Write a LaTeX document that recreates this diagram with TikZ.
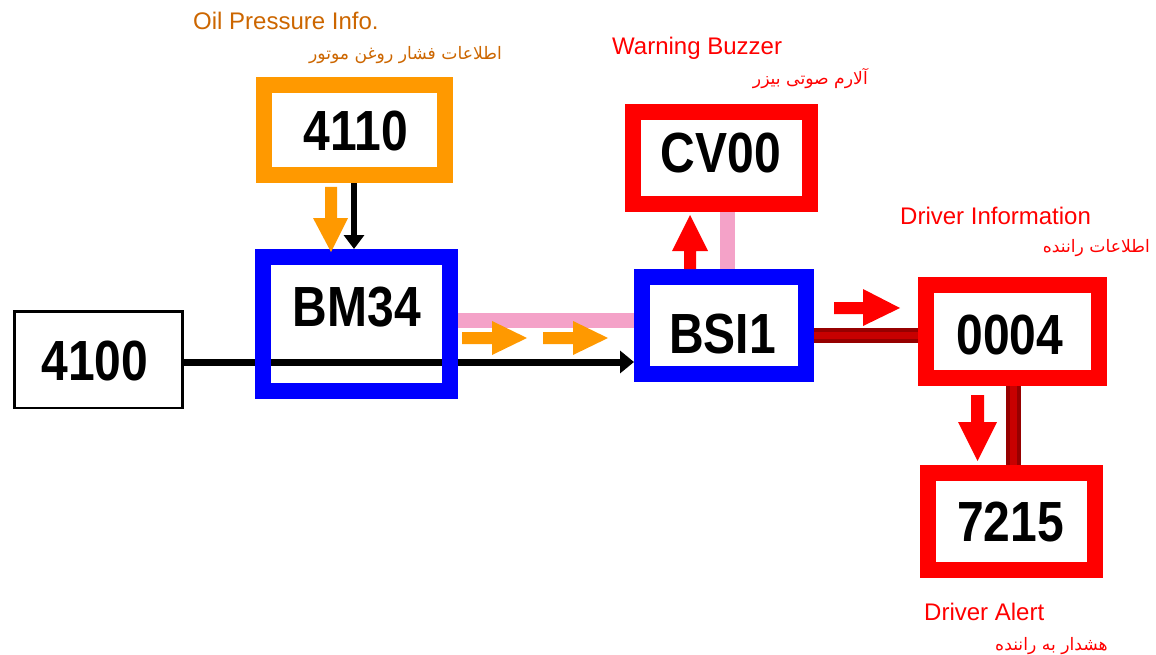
\documentclass[tikz,border=0pt]{standalone}
\usepackage{graphicx}
\usepackage{fontspec}
\setmainfont{Liberation Sans}
\newfontfamily\fa[Script=Arabic]{DejaVu Sans}
\TeXXeTstate=1
\usetikzlibrary{arrows.meta,backgrounds,calc}
\definecolor{orgbox}{RGB}{255,153,0}
\definecolor{orgtxt}{RGB}{204,102,0}
\definecolor{redc}{RGB}{255,0,0}
\definecolor{bluec}{RGB}{0,0,255}
\definecolor{pinkc}{RGB}{244,162,200}
\definecolor{darkred}{RGB}{150,0,0}
\definecolor{midred}{RGB}{200,0,0}
\tikzset{
  fatbox/.style={rectangle, draw=#1, line width=16pt, outer sep=8pt, inner sep=0pt},
  thinbox/.style={rectangle, draw=black, line width=2.5pt, outer sep=1.25pt, inner sep=0pt},
  num/.style={inner sep=0pt, font=\fontsize{48}{48}\selectfont\bfseries},
  entxt/.style={inner sep=0pt, font=\fontsize{24}{24}\selectfont},
  fatxt/.style={inner sep=0pt, font=\fontsize{17.2}{17.2}\fa},
  pinkline/.style={draw=pinkc, line width=15pt},
  darkline/.style={draw=darkred, line width=15pt},
  blackarrow/.style={draw=black, -{Triangle[length=14pt,width=#1]}}
}
\begin{document}
\begin{tikzpicture}[x=1pt,y=-1pt]
\useasboundingbox (0,0) rectangle (1156,655);

% boxes
\node[fatbox=orgbox, minimum width=181, minimum height=90] (b4110) at (354.5,130) {};
\node[fatbox=bluec, minimum width=187, minimum height=134] (bm) at (356.5,324) {};
\node[thinbox, minimum width=168, minimum height=96.5] (b4100) at (98.5,359.5) {};
\node[fatbox=bluec, minimum width=164, minimum height=97] (bsi) at (724,325.5) {};
\node[fatbox=redc, minimum width=177, minimum height=92] (cv) at (721.5,158) {};
\node[fatbox=redc, minimum width=173, minimum height=93] (b0004) at (1012.5,331.5) {};
\node[fatbox=redc, minimum width=167, minimum height=97] (b7215) at (1011.5,521.5) {};

% box texts
\node[num] (t4110) at (356,131) {\scalebox{1}[1.18]{4110}};
\node[num] (tbm) at (357,307.5) {\scalebox{1}[1.18]{BM34}};
\node[num] (t4100) at (95,360.5) {\scalebox{1}[1.18]{4100}};
\node[num] (tbsi) at (722.5,334) {\scalebox{1}[1.18]{BSI1}};
\node[num] (tcv) at (721,153.5) {\scalebox{1}[1.18]{CV00}};
\node[num] (t0004) at (1010,335) {\scalebox{1}[1.18]{0004}};
\node[num] (t7215) at (1010.5,522) {\scalebox{1}[1.18]{7215}};

% connectors (behind the box borders)
\begin{scope}[on background layer]
  \coordinate (rowBlack) at (0,362);
  \coordinate (rowPink) at (0,320);
  \coordinate (rowDark) at (0,335);
  \coordinate (colBlack) at (354,0);
  \coordinate (colPink) at (727,0);
  \coordinate (colDark) at (1013,0);
  \draw[blackarrow=22pt, line width=7pt] (b4100.east |- rowBlack) -- (bsi.west |- rowBlack);
  \draw[blackarrow=20pt, line width=6.5pt] (b4110.south -| colBlack) -- (bm.north -| colBlack);
  \draw[pinkline] (bm.east |- rowPink) -- (bsi.west |- rowPink);
  \draw[pinkline] (bsi.north -| colPink) -- (cv.south -| colPink);
  \draw[darkline] (bsi.east |- rowDark) -- (b0004.west |- rowDark);
  \draw[darkline] (b0004.south -| colDark) -- (b7215.north -| colDark);
  \draw[midred, line width=7pt] (bsi.east |- rowDark) -- (b0004.west |- rowDark);
  \draw[midred, line width=7pt] (b0004.south -| colDark) -- (b7215.north -| colDark);
\end{scope}

% fat signal arrows
\fill[orgbox] (325,187) -- (337,187) -- (337,218) -- (348,218) -- (331,252) -- (313,218) -- (325,218) -- cycle;
\fill[orgbox] (462,332) -- (492,332) -- (492,321) -- (527,338) -- (492,355) -- (492,344) -- (462,344) -- cycle;
\fill[orgbox] (543,332) -- (573,332) -- (573,321) -- (608,338) -- (573,355) -- (573,344) -- (543,344) -- cycle;
\fill[redc] (684,269) -- (684,251) -- (672,251) -- (690,215) -- (708,251) -- (696,251) -- (696,269) -- cycle;
\fill[redc] (834,302) -- (863,302) -- (863,289) -- (900,308) -- (863,326) -- (863,314) -- (834,314) -- cycle;
\fill[redc] (971,395) -- (984,395) -- (984,422) -- (997,422) -- (977.5,461) -- (958,422) -- (971,422) -- cycle;

% labels
\node[entxt, text=orgtxt, anchor=base west] (lOil) at (193,30) {Oil Pressure Info.};
\node[fatxt, text=orgtxt, anchor=east] (lOilFa) at (502,55) {\beginR اطلاعات فشار روغن موتور\endR};
\node[entxt, text=redc, anchor=base west] (lWarn) at (612,55) {Warning Buzzer};
\node[fatxt, text=redc, anchor=east] (lWarnFa) at (868,79) {\beginR آلارم صوتی بیزر\endR};
\node[entxt, text=redc, anchor=base west] (lInfo) at (900,224) {Driver Information};
\node[fatxt, text=redc, anchor=east] (lInfoFa) at (1150,248) {\beginR اطلاعات راننده\endR};
\node[entxt, text=redc, anchor=base west] (lAlert) at (924,620) {Driver Alert};
\node[fatxt, text=redc, anchor=east] (lAlertFa) at (1108,646) {\beginR هشدار به راننده\endR};
\end{tikzpicture}
\end{document}
